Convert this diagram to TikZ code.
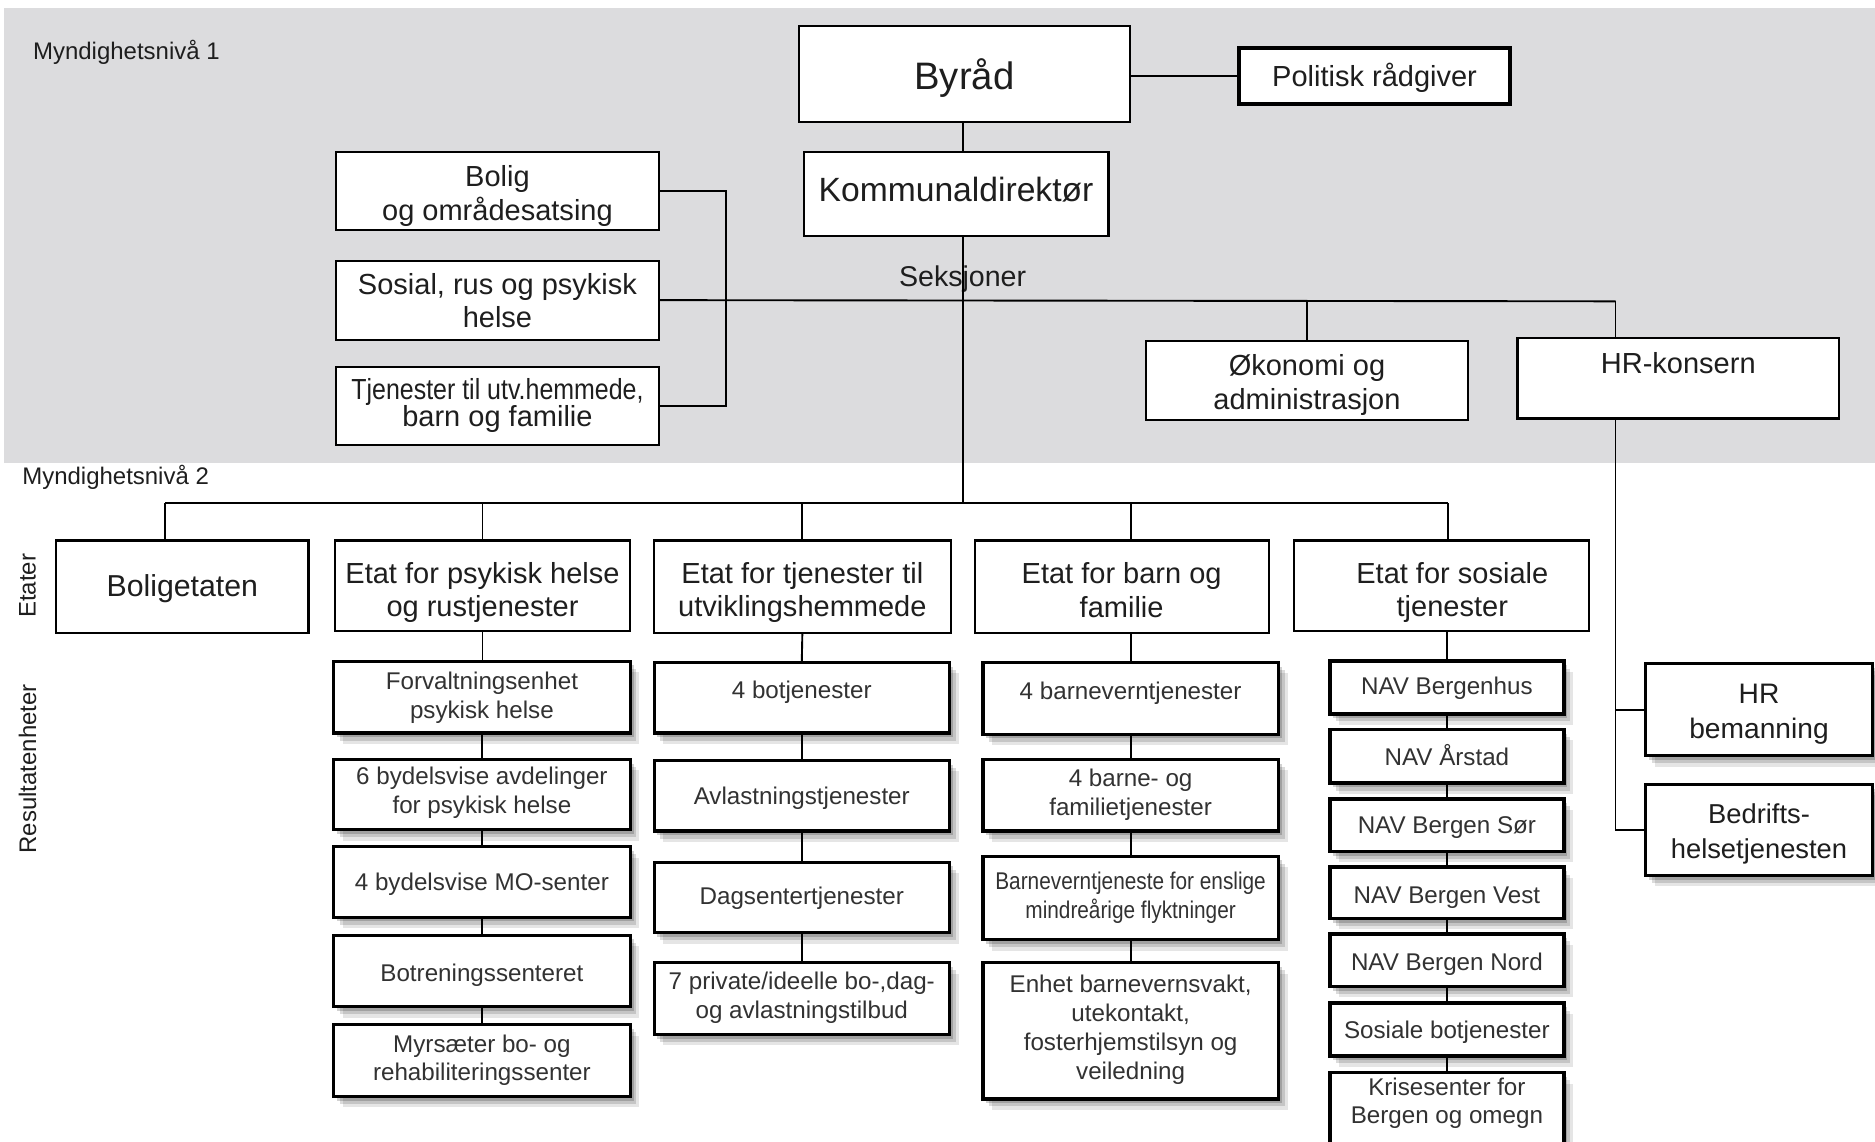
\documentclass[tikz,border=0pt]{standalone}
\usepackage{fontspec}
\usepackage{graphicx}
\setmainfont{Liberation Sans}
\definecolor{bg}{RGB}{220,220,222}
\definecolor{txt}{RGB}{30,30,30}
\definecolor{rtxt}{RGB}{50,50,50}
\newdimen\pxu \pxu=0.2845pt
\def\mytshift{0}\def\mytxshift{0}
\newcommand\obox[7]{\node[#1, minimum width={(#4-#2)*0.01cm}, minimum height={(#5-#3)*0.01cm}] (#6) at ({(#2+#4)/2},{(#3+#5)/2}) {\hspace*{\dimexpr\mytxshift\pxu*2\relax}\raisebox{-\mytshift\pxu}[\height][\depth]{\begin{tabular}{@{}c@{}}#7\end{tabular}}};}
\tikzset{
  ty/.code={\def\mytshift{#1}},
  tx/.code={\def\mytxshift{#1}},
  bx/.style={draw, fill=white, inner sep=0pt, outer sep=0pt, text=txt, line width=0.5pt, ty=1.5, tx=0, font=\fontsize{6.9}{8}\selectfont},
  shadowed/.style={
    preaction={fill=black, opacity=0.10, transform canvas={xshift=2.2pt, yshift=-2.6pt}},
    preaction={fill=black, opacity=0.14, transform canvas={xshift=1.5pt, yshift=-1.8pt}},
    preaction={fill=black, opacity=0.18, transform canvas={xshift=0.8pt, yshift=-1.0pt}}},
  res/.style={bx, shadowed, line width=0.75pt, text=rtxt, font=\fontsize{5.75}{6.85}\selectfont},
  navbox/.style={res, line width=0.85pt},
  conn/.style={line width=0.45pt},
  lab/.style={inner sep=0pt, text=txt, font=\fontsize{5.7}{7}\selectfont},
}
\begin{document}
\begin{tikzpicture}[x=0.01cm, y=-0.01cm]
\useasboundingbox (0,0) rectangle (1568,955);
\clip (0,0) rectangle (1568,955);
\fill[bg] (3,7) rectangle (1570,387);

% labels
\node[lab, anchor=west] (niv1) at (27,44) {Myndighetsnivå 1};
\node[lab, anchor=west] (niv2) at (18,399) {Myndighetsnivå 2};
\node[lab, rotate=90] (etlab) at (23,490) {Etater};
\node[lab, rotate=90] (reslab) at (23,643) {Resultatenheter};
\node[lab, font=\fontsize{6.8}{8}\selectfont] (sek) at (805,233) {Seksjoner};

% helper coordinates
\coordinate (spx) at (805,0);
\coordinate (brk) at (607,0);
\coordinate (sekR) at (1351,252);
\coordinate (busL) at (138,421);
\coordinate (busR) at (1211,421);

% connectors (drawn first)
\draw[conn] (busL) -- (busR);

% top level
\obox{bx, ty=5, line width=0.55pt, font=\fontsize{9.1}{11}\selectfont}{668}{22}{945}{102}{byrad}{Byråd}
\obox{bx, ty=3, line width=0.85pt}{1036}{40}{1263}{87}{pol}{Politisk rådgiver}
\obox{bx, ty=-0.5, font=\fontsize{8}{9.5}\selectfont}{672}{127}{927}{197}{kom}{Kommunaldirektør}

\obox{bx, ty=5}{281}{127}{551}{192}{bolig}{Bolig\\og områdesatsing}
\obox{bx, ty=3.5}{281}{218}{551}{284}{sosial}{Sosial, rus og psykisk\\helse}
\obox{bx, ty=0.5}{281}{307}{551}{372}{tjen}{\scalebox{0.86}[1]{Tjenester til utv.hemmede,}\\[-1.5pt]barn og familie}
\obox{bx, ty=4.5}{958}{285}{1228}{351}{okon}{Økonomi og\\administrasjon}
\obox{bx, ty=-10}{1269}{283}{1538}{350}{hrk}{HR-konsern}

% etater
\obox{bx, ty=2.5, font=\fontsize{7.2}{8.5}\selectfont}{47}{452}{258}{529}{e1}{Boligetaten}
\obox{bx, ty=6}{280}{452}{527}{528}{e2}{Etat for psykisk helse\\og rustjenester}
\obox{bx, ty=5.5}{547}{452}{795}{529}{e3}{Etat for tjenester til\\utviklingshemmede}
\obox{bx, ty=6}{815}{452}{1061}{529}{e4}{Etat for barn og\\familie}
\obox{bx, ty=6, tx=9}{1082}{452}{1329}{528}{e5}{Etat for sosiale\\tjenester}

% psykisk column
\obox{res, ty=1}{279}{553}{527}{613}{p1}{Forvaltningsenhet\\psykisk helse}
\obox{res, ty=-1}{279}{635}{527}{694}{p2}{6 bydelsvise avdelinger\\for psykisk helse}
\obox{res, ty=2.5}{279}{708}{527}{767}{p3}{4 bydelsvise MO-senter}
\obox{res, ty=4}{279}{782}{527}{842}{p4}{Botreningssenteret}
\obox{res, ty=0}{279}{857}{527}{917}{p5}{Myrsæter bo- og\\rehabiliteringssenter}

% tjenester column
\obox{res, ty=-4}{547}{554}{794}{613}{t1}{4 botjenester}
\obox{res, ty=2.5}{547}{636}{794}{695}{t2}{Avlastningstjenester}
\obox{res, ty=1.5}{547}{721}{794}{780}{t3}{Dagsentertjenester}
\obox{res, ty=0}{547}{805}{794}{865}{t4}{7 private/ideelle bo-,dag-\\og avlastningstilbud}

% barn column
\obox{res, ty=-3.5}{822}{554}{1069}{614}{b1}{4 barneverntjenester}
\obox{res, ty=0}{822}{635}{1069}{695}{b2}{4 barne- og\\familietjenester}
\obox{res, ty=0}{822}{716}{1069}{786}{b3}{\scalebox{0.86}[1]{Barneverntjeneste for enslige}\\\scalebox{0.86}[1]{mindreårige flyktninger}}
\obox{res, ty=-0.5}{822}{805}{1069}{919}{b4}{Enhet barnevernsvakt,\\utekontakt,\\fosterhjemstilsyn og\\veiledning}

% sosiale column
\obox{navbox, ty=1}{1112}{553}{1308}{597}{n1}{NAV Bergenhus}
\obox{navbox, ty=2.5}{1112}{610}{1308}{655}{n2}{NAV Årstad}
\obox{navbox, ty=2.5}{1112}{668}{1308}{712}{n3}{NAV Bergen Sør}
\obox{navbox, ty=4}{1112}{725}{1308}{768}{n4}{NAV Bergen Vest}
\obox{navbox, ty=3.5}{1112}{781}{1308}{825}{n5}{NAV Bergen Nord}
\obox{navbox, ty=2.5}{1112}{839}{1308}{883}{n6}{Sosiale botjenester}
\obox{navbox, ty=-13}{1112}{897}{1308}{975}{n7}{Krisesenter for\\Bergen og omegn}

% HR
\obox{res, ty=3.5, text=txt, font=\fontsize{6.7}{8.2}\selectfont}{1376}{555}{1566}{632}{hrb}{HR\\bemanning}
\obox{res, ty=3.5, text=txt, font=\fontsize{6.5}{8.2}\selectfont}{1376}{656}{1566}{732}{bedr}{Bedrifts-\\helsetjenesten}

% connectors between nodes
\draw[conn] (byrad.south -| spx) -- (kom.north -| spx);
\draw[conn] (kom.south -| spx) -- (busL -| spx);
\draw[conn] (pol.west) -- (pol.west -| byrad.east);
\draw[conn] (sosial.east) -- (sekR);
\draw[conn] (okon.north) -- (okon.north |- sekR);
\draw[conn] (sekR) -- (sekR |- hrk.north);
\draw[conn] (bolig.east) -- (bolig.east -| brk) -- (tjen.east -| brk) -- (tjen.east);
\draw[conn] (hrk.south -| sekR) -- (bedr.west -| sekR) -- (bedr.west);
\draw[conn] (hrb.west) -- (hrb.west -| sekR);

% etat drops
\draw[conn] (busL) -- (busL |- e1.north);
\draw[conn] (e2.north |- busL) -- (e2.north);
\draw[conn] (e3.north |- busL) -- (e3.north);
\draw[conn] (b1.north |- busL) -- (b1.north |- e4.north);
\draw[conn] (busR) -- (busR |- e5.north);

% column chains
\draw[conn] (e2.south) -- (e2.south |- p1.north);
\draw[conn] (p1.south) -- (p2.north);
\draw[conn] (p2.south) -- (p3.north);
\draw[conn] (p3.south) -- (p4.north);
\draw[conn] (p4.south) -- (p5.north);

\draw[conn] (e3.south) -- (t1.north);
\draw[conn] (t1.south) -- (t2.north);
\draw[conn] (t2.south) -- (t3.north);
\draw[conn] (t3.south) -- (t4.north);

\draw[conn] (b1.north |- e4.south) -- (b1.north);
\draw[conn] (b1.south) -- (b2.north);
\draw[conn] (b2.south) -- (b3.north);
\draw[conn] (b3.south) -- (b4.north);

\draw[conn] (n1.north |- e5.south) -- (n1.north);
\draw[conn] (n1.south) -- (n2.north);
\draw[conn] (n2.south) -- (n3.north);
\draw[conn] (n3.south) -- (n4.north);
\draw[conn] (n4.south) -- (n5.north);
\draw[conn] (n5.south) -- (n6.north);
\draw[conn] (n6.south) -- (n7.north);
\end{tikzpicture}
\end{document}
